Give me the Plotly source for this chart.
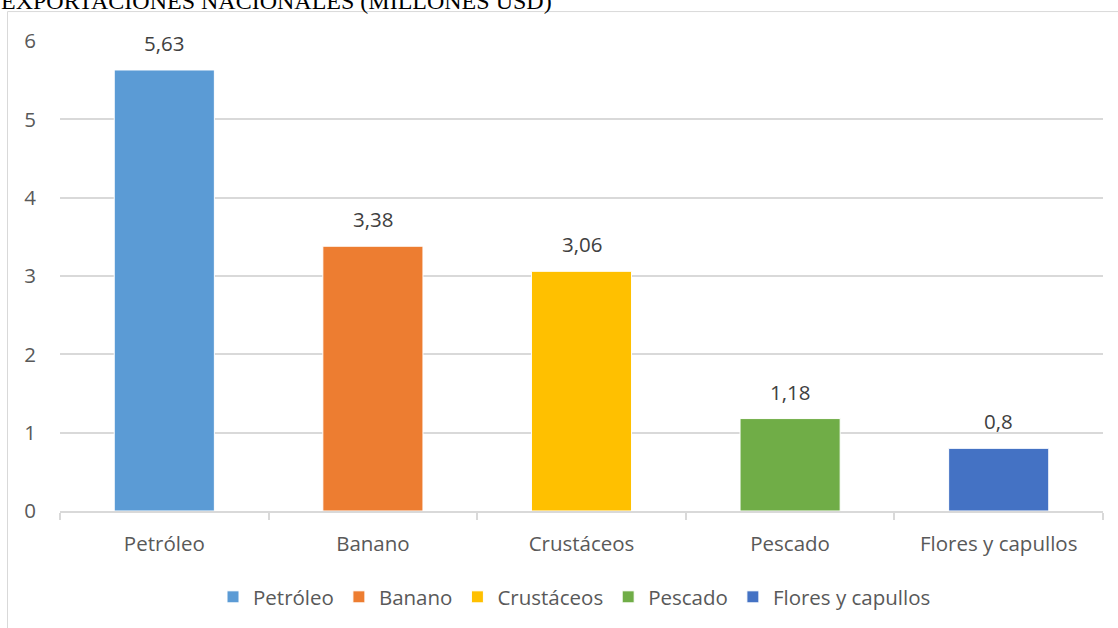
import plotly.graph_objects as go

categories = ["Petróleo", "Banano", "Crustáceos", "Pescado", "Flores y capullos"]
values = [5.63, 3.38, 3.06, 1.18, 0.8]
labels = ["5,63", "3,38", "3,06", "1,18", "0,8"]
colors = ["#5B9BD5", "#ED7D31", "#FFC000", "#70AD47", "#4472C4"]
y_ticks = [0, 1, 2, 3, 4, 5, 6]
title_text = "EXPORTACIONES NACIONALES (MILLONES USD)"

W, H = 1118, 628
L, R, T, B = 60, 15, 41, 116
pw = W - L - R
ph = H - T - B

def px_x(p):
    return (p - L) / pw

def px_y(p):
    return (H - B - p) / ph

FONT = "Open Sans"
FS = 20.5
fig = go.Figure()
for c, v, col in zip(categories, values, colors):
    fig.add_trace(go.Bar(
        x=[c], y=[v], name=c, width=0.48,
        marker=dict(color=col, line=dict(color="white", width=1)),
        hoverinfo="x+y",
    ))

for c, v, lab in zip(categories, values, labels):
    fig.add_annotation(x=c, y=v, text=lab, showarrow=False, yanchor="bottom",
                       yshift=12, borderpad=0,
                       font=dict(family=FONT, size=FS, color="#404040"))

fig.add_annotation(xref="paper", yref="paper", x=px_x(0), y=px_y(0.5),
                   xanchor="left", yanchor="middle", text=title_text,
                   showarrow=False, borderpad=0,
                   font=dict(family="Liberation Serif", size=24, color="black"))

fig.add_shape(type="rect", xref="paper", yref="paper",
              x0=px_x(7.5), x1=px_x(1125), y0=px_y(700), y1=px_y(11.5),
              line=dict(color="#d9d9d9", width=1), layer="below")

fig.update_layout(
    width=W, height=H,
    margin=dict(l=L, r=R, t=T, b=B),
    barmode="overlay",
    plot_bgcolor="white", paper_bgcolor="white",
    font=dict(family=FONT, size=FS, color="#595959"),
    showlegend=True,
    legend=dict(orientation="h", x=0.5 - 7 / pw, xanchor="center",
                y=px_y(597), yanchor="middle",
                font=dict(family=FONT, size=FS, color="#595959"),
                bgcolor="rgba(0,0,0,0)"),
    xaxis=dict(type="category", showline=True, linecolor="#d9d9d9", linewidth=1.5,
               ticks="outside", tickson="boundaries", ticklen=7, tickcolor="#d9d9d9",
               tickwidth=1.5, showgrid=False, ticklabelstandoff=14,
               tickfont=dict(family=FONT, size=FS, color="#595959")),
    yaxis=dict(range=[0, 6], tickvals=y_ticks, showgrid=True, gridcolor="#d9d9d9",
               gridwidth=1.5, zeroline=False, showline=False, ticks="",
               ticklabelstandoff=23,
               tickfont=dict(family=FONT, size=FS, color="#595959")),
)

fig.write_html("out.html", config={"displayModeBar": False},
               post_script="document.body.style.margin='0';document.body.style.overflow='hidden';")
